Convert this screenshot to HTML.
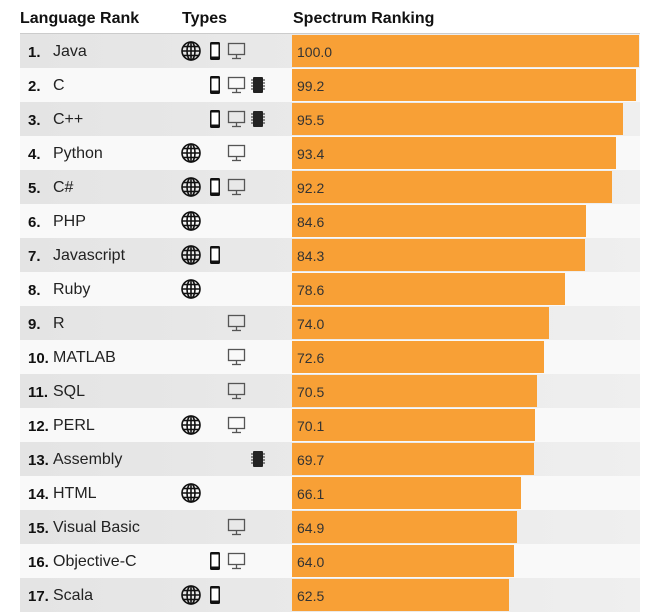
<!DOCTYPE html><html><head><style>
body{margin:0;width:666px;height:604px;overflow:hidden;background:#fff;font-family:"Liberation Sans",Arial,sans-serif;position:relative}
.h{position:absolute;top:10px;font-weight:bold;font-size:16px;color:#111}
.hl{position:absolute;left:20px;top:33px;width:620px;height:1px;background:#ccc}
.r{position:absolute;left:20px;width:620px;height:34px}
.g{background:linear-gradient(to right,#e4e4e4,#efefef)}
.w{background:#f9f9f9}
.rk{position:absolute;left:8px;top:10px;font-size:15px;font-weight:bold;color:#111}
.nm{position:absolute;left:33px;top:9px;font-size:16px;color:#222}
.bar{position:absolute;left:272px;top:1px;height:32px;background:#f8a036}
.v{position:absolute;left:5px;top:9px;font-size:14px;color:#333}
svg{position:absolute;top:0}
</style></head><body>
<div class="h" style="left:20px">Language Rank</div>
<div class="h" style="left:182px">Types</div>
<div class="h" style="left:293px">Spectrum Ranking</div>
<div class="hl"></div>
<svg width="0" height="0" style="position:absolute"><defs>
<g id="gl" fill="none" stroke="#111" stroke-width="1.6"><circle cx="0" cy="0" r="9"/><ellipse cx="0" cy="0" rx="4" ry="9"/><line x1="0" y1="-9" x2="0" y2="9"/><line x1="-9" y1="0" x2="9" y2="0"/><line x1="-8" y1="-4.5" x2="8" y2="-4.5"/><line x1="-8" y1="4.5" x2="8" y2="4.5"/></g>
<g id="ph"><rect x="0" y="0" width="10" height="18" rx="1.5" fill="#111"/><rect x="1.5" y="2.5" width="7" height="12" fill="#fff"/></g>
<g id="dt" fill="none" stroke="#555" stroke-width="1.3"><rect x="0.5" y="0.5" width="16" height="11"/><line x1="8.5" y1="12" x2="8.5" y2="15"/><line x1="4" y1="15.5" x2="13" y2="15.5"/></g>
<g id="cp" fill="#222"><rect x="2" y="0" width="10" height="16" rx="1"/><g stroke="#222" stroke-width="1"><line x1="0" y1="3" x2="14" y2="3"/><line x1="0" y1="6" x2="14" y2="6"/><line x1="0" y1="9" x2="14" y2="9"/><line x1="0" y1="12" x2="14" y2="12"/></g></g>
</defs></svg>
<div id="rows"></div>
<script>
var d=[["Java",100,"gpd"],["C",99.2,"pdc"],["C++",95.5,"pdc"],["Python",93.4,"gd"],["C#",92.2,"gpd"],["PHP",84.6,"g"],["Javascript",84.3,"gp"],["Ruby",78.6,"g"],["R",74.0,"d"],["MATLAB",72.6,"d"],["SQL",70.5,"d"],["PERL",70.1,"gd"],["Assembly",69.7,"c"],["HTML",66.1,"g"],["Visual Basic",64.9,"d"],["Objective-C",64.0,"pd"],["Scala",62.5,"gp"]];
var h="";
d.forEach(function(r,i){
var top=34+34*i,ic="";
if(r[2].indexOf("g")>=0)ic+='<use href="#gl" x="171" y="17"/>';
if(r[2].indexOf("p")>=0)ic+='<use href="#ph" x="190" y="8"/>';
if(r[2].indexOf("d")>=0)ic+='<use href="#dt" x="208" y="9"/>';
if(r[2].indexOf("c")>=0)ic+='<use href="#cp" x="231" y="9"/>';
h+='<div class="r '+(i%2?"w":"g")+'" style="top:'+top+'px"><span class="rk">'+(i+1)+'.</span><span class="nm">'+r[0]+'</span><svg width="260" height="34" style="left:0">'+ic+'</svg><div class="bar" style="width:'+(r[1]*3.47).toFixed(1)+'px"><span class="v">'+r[1].toFixed(1)+'</span></div></div>';
});
document.getElementById("rows").innerHTML=h;
</script>
</body></html>
